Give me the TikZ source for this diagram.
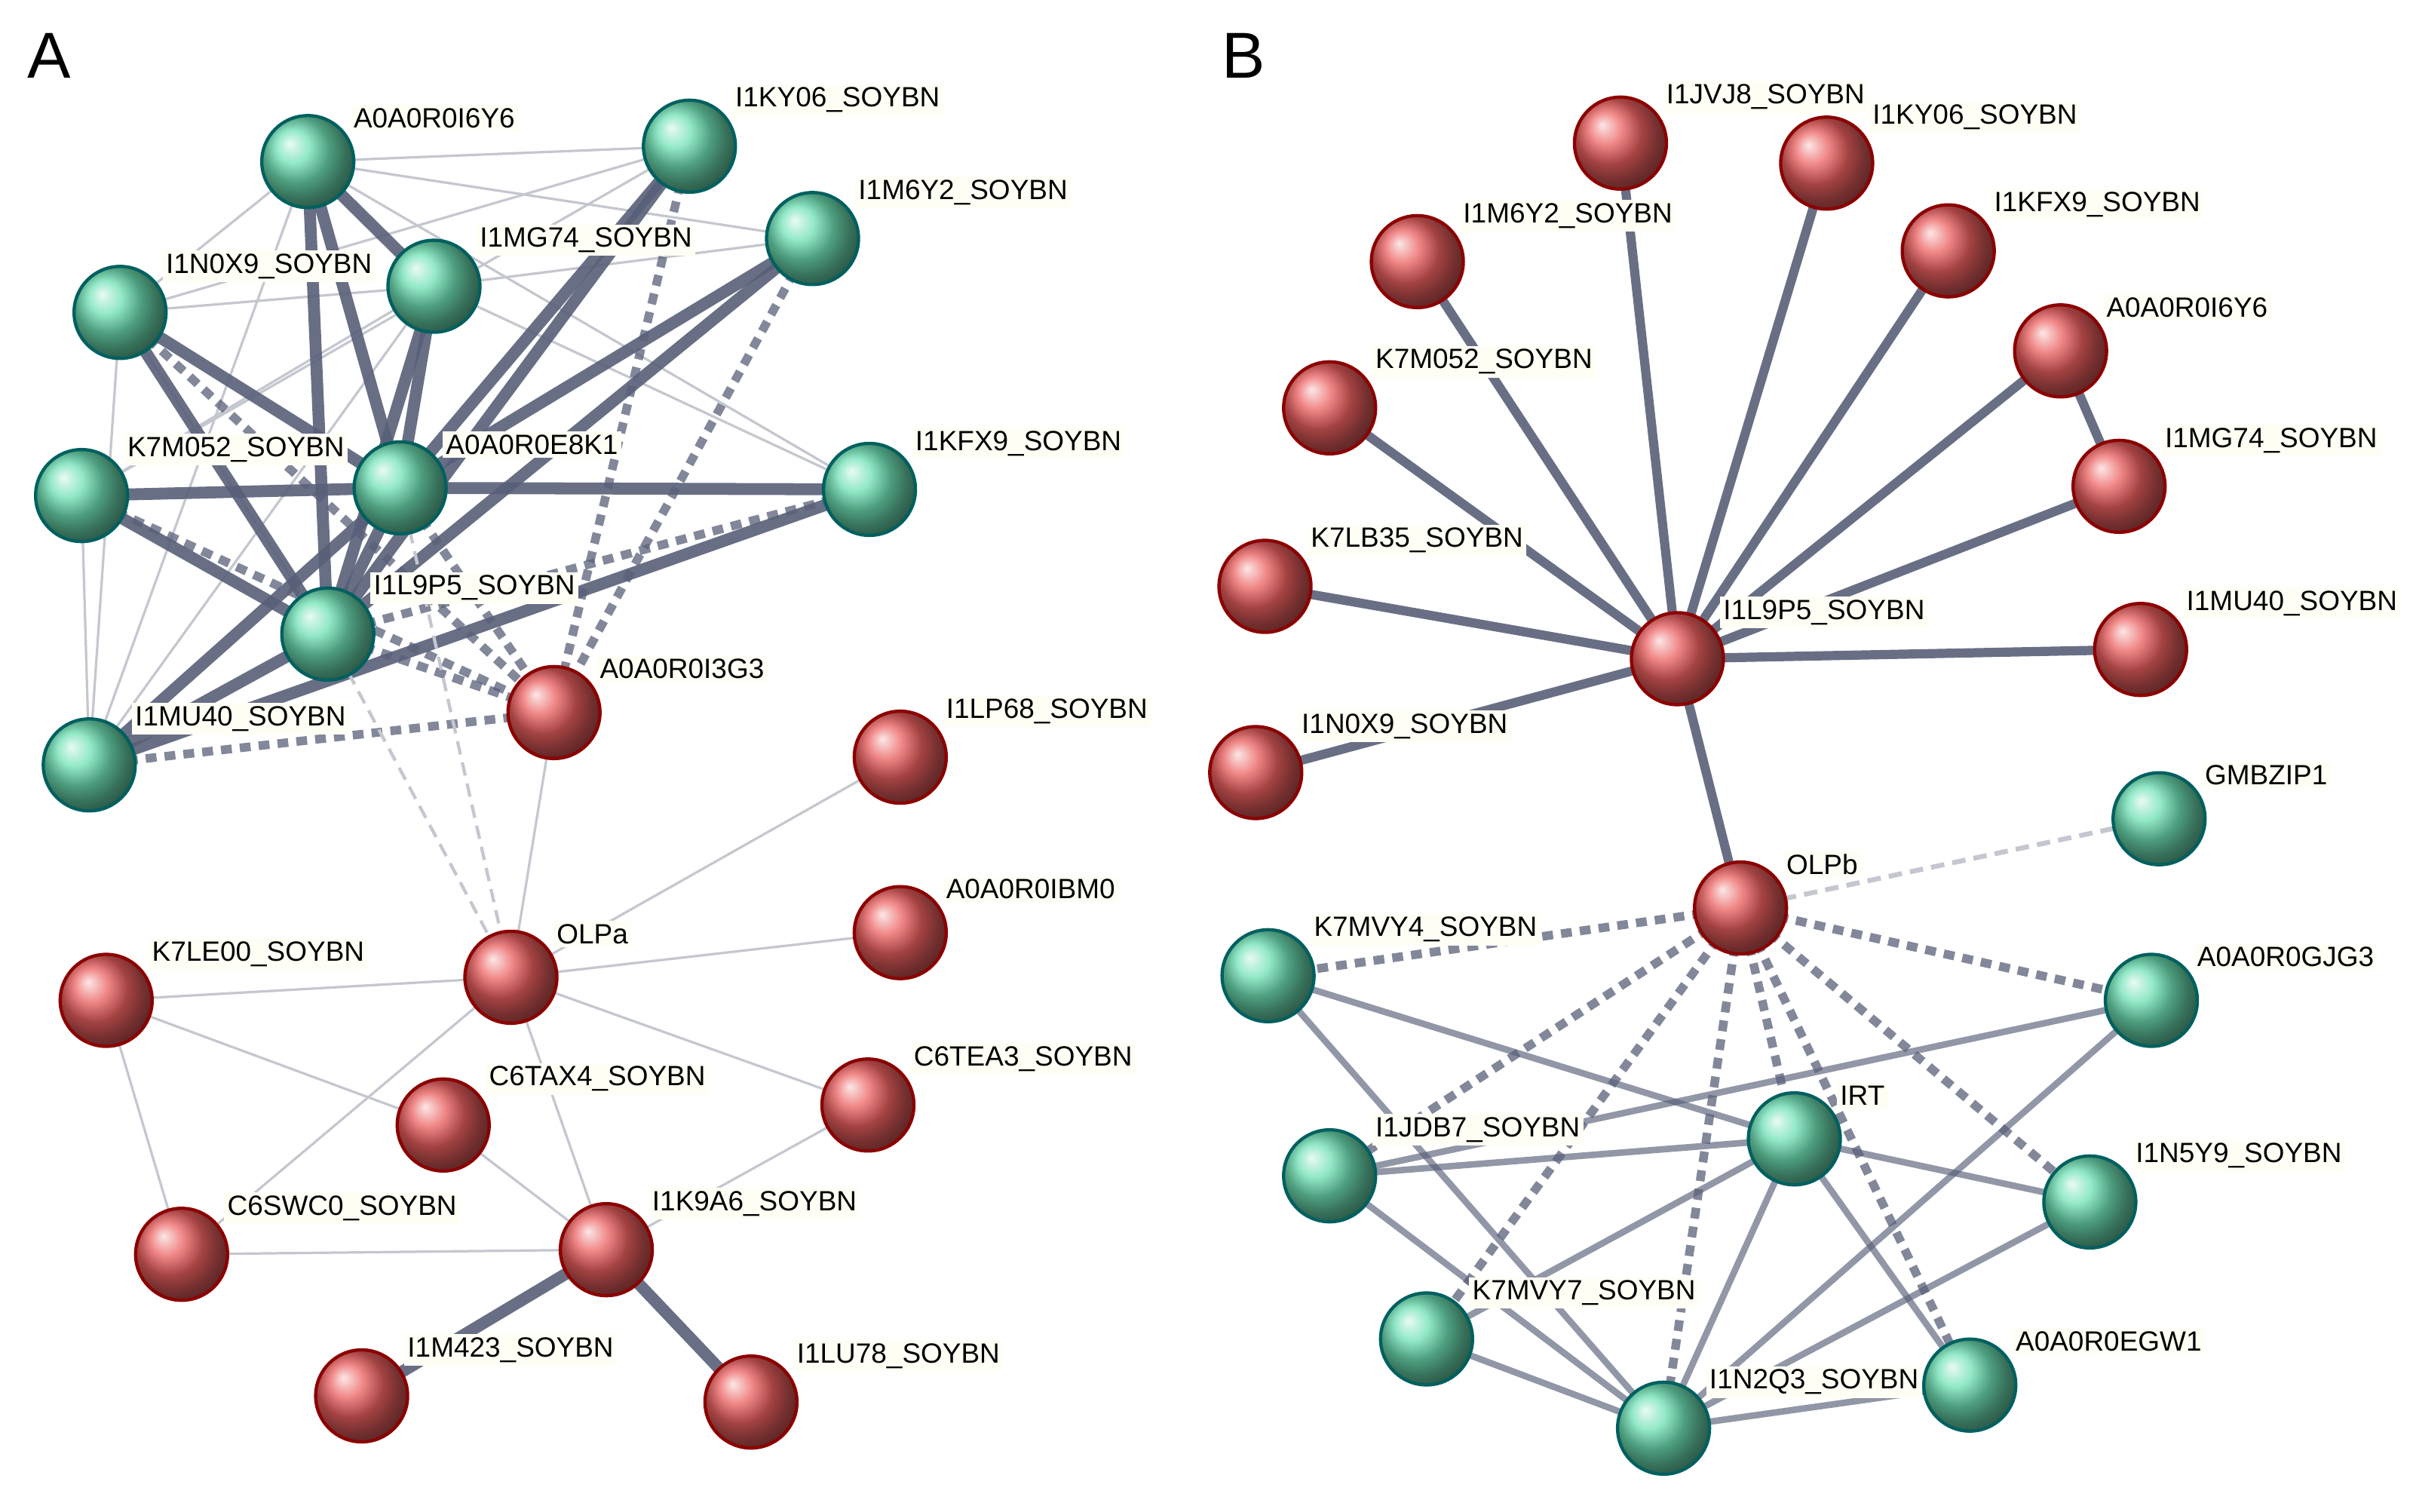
\documentclass[tikz,border=0pt]{standalone}
\usepackage{fontspec}
\setmainfont{Liberation Sans}
\definecolor{edg}{RGB}{88,95,120}
\definecolor{rb}{RGB}{235,95,95}
\definecolor{gb}{RGB}{110,225,180}
\begin{document}
\begin{tikzpicture}[x=0.01cm,y=-0.01cm,
 thk/.style={draw=edg,line width=2.2pt,draw opacity=0.9},
 med/.style={draw=edg,line width=1.2pt,draw opacity=0.65},
 thn/.style={draw=edg!35,line width=0.45pt},
 dsh/.style={draw=edg,line width=1.6pt,dash pattern=on 2pt off 1.5pt,draw opacity=0.75},
 ldsh/.style={draw=edg!35,line width=0.6pt,dash pattern=on 2.5pt off 1.5pt},
 lbl/.style={anchor=south west,inner sep=0.6pt,fill=yellow!4!white,font=\fontsize{5.15}{6}\selectfont},
 rball/.style={circle,minimum size=17pt,inner sep=0,shading=ball,ball color=rb,draw=red!55!black,line width=0.6pt},
 gball/.style={circle,minimum size=17pt,inner sep=0,shading=ball,ball color=gb,draw=teal!75!black,line width=0.6pt}]
\useasboundingbox (0,0) rectangle (1568,982);
\foreach \n/\x/\y in {a1/200/105,a2/448/95,a3/528/155,a4/78/203,a5/282/186,a6/53/322,a7/260/317,a8/565/318,a9/213/412,a10/360/463,a11/58/497,a12/585/492,a13/585/606,a14/69/650,a15/332/635,a16/288/731,a17/564/718,a18/118/815,a19/394/812,a20/235/907,a21/488/911,
 b1/1053/93,b2/1187/106,b3/921/170,b4/1266/163,b5/1339/228,b6/864/265,b7/1377/316,b8/822/381,b9/1090/428,b10/1391/422,b11/816/502,b12/1403/532,b13/1131/590,b14/824/634,b15/1398/650,b16/1166/740,b17/864/764,b18/1358/781,b19/927/870,b20/1280/900,b21/1081/928}
 \coordinate (\n) at (\x,\y);
% panel A edges
\foreach \p/\q in {a1/a2,a1/a3,a1/a4,a1/a8,a4/a5,a4/a2,a4/a11,a5/a3,a5/a6,a2/a6,a11/a5,a5/a8,a4/a9,a1/a11,a6/a11}
 \draw[thn] (\p)--(\q);
\foreach \p/\q in {a1/a5,a1/a9,a1/a7,a4/a9,a4/a7,a5/a7,a5/a9,a2/a7,a2/a9,a3/a7,a3/a9,a6/a7,a7/a8,a6/a9,a8/a11,a7/a9,a9/a11,a7/a11}
 \draw[thk] (\p)--(\q);
\foreach \p/\q in {a4/a10,a6/a10,a11/a10,a2/a10,a3/a10,a8/a9,a7/a10,a9/a10}
 \draw[dsh] (\p)--(\q);
\foreach \p/\q in {a9/a15,a7/a15} \draw[ldsh] (\p)--(\q);
\foreach \p/\q in {a10/a15,a15/a12,a15/a13,a15/a14,a15/a17,a15/a18,a15/a19,a14/a16,a14/a18,a18/a19,a16/a19,a19/a17}
 \draw[thn] (\p)--(\q);
\foreach \p/\q in {a19/a20,a19/a21} \draw[thk] (\p)--(\q);
% panel B edges
\foreach \p/\q in {b9/b1,b9/b2,b9/b3,b9/b4,b9/b5,b9/b6,b9/b7,b9/b8,b9/b10,b9/b11,b5/b7,b9/b13}
 \draw[thk,line width=1.7pt] (\p)--(\q);
\foreach \p/\q in {b13/b14,b13/b15,b13/b17,b13/b19,b13/b21,b13/b16,b13/b18,b13/b20}
 \draw[dsh] (\p)--(\q);
\draw[ldsh,line width=0.9pt] (b13)--(b12);
\foreach \p/\q in {b14/b16,b14/b21,b17/b16,b17/b15,b17/b21,b16/b19,b16/b18,b16/b20,b15/b21,b18/b21,b19/b21,b21/b20,b16/b21}
 \draw[med] (\p)--(\q);
% nodes
\foreach \n/\s/\t in {a1/g/A0A0R0I6Y6,a2/g/I1KY06\_SOYBN,a3/g/I1M6Y2\_SOYBN,a4/g/I1N0X9\_SOYBN,a5/g/I1MG74\_SOYBN,a6/g/K7M052\_SOYBN,a7/g/A0A0R0E8K1,a8/g/I1KFX9\_SOYBN,a9/g/I1L9P5\_SOYBN,a10/r/A0A0R0I3G3,a11/g/I1MU40\_SOYBN,a12/r/I1LP68\_SOYBN,a13/r/A0A0R0IBM0,a14/r/K7LE00\_SOYBN,a15/r/OLPa,a16/r/C6TAX4\_SOYBN,a17/r/C6TEA3\_SOYBN,a18/r/C6SWC0\_SOYBN,a19/r/I1K9A6\_SOYBN,a20/r/I1M423\_SOYBN,a21/r/I1LU78\_SOYBN,
 b1/r/I1JVJ8\_SOYBN,b2/r/I1KY06\_SOYBN,b3/r/I1M6Y2\_SOYBN,b4/r/I1KFX9\_SOYBN,b5/r/A0A0R0I6Y6,b6/r/K7M052\_SOYBN,b7/r/I1MG74\_SOYBN,b8/r/K7LB35\_SOYBN,b9/r/I1L9P5\_SOYBN,b10/r/I1MU40\_SOYBN,b11/r/I1N0X9\_SOYBN,b12/g/GMBZIP1,b13/r/OLPb,b14/g/K7MVY4\_SOYBN,b15/g/A0A0R0GJG3,b16/g/IRT,b17/g/I1JDB7\_SOYBN,b18/g/I1N5Y9\_SOYBN,b19/g/K7MVY7\_SOYBN,b20/g/A0A0R0EGW1,b21/g/I1N2Q3\_SOYBN}
 {\node[\s ball] (n\n) at (\n) {};
  \node[lbl] (l\n) at ([xshift=0.27cm,yshift=0.19cm]\n) {\t};}
\node[font=\fontsize{12}{14}\selectfont] (pA) at (32,36) {A};
\node[font=\fontsize{12}{14}\selectfont] (pB) at (808,36) {B};
\end{tikzpicture}
\end{document}
